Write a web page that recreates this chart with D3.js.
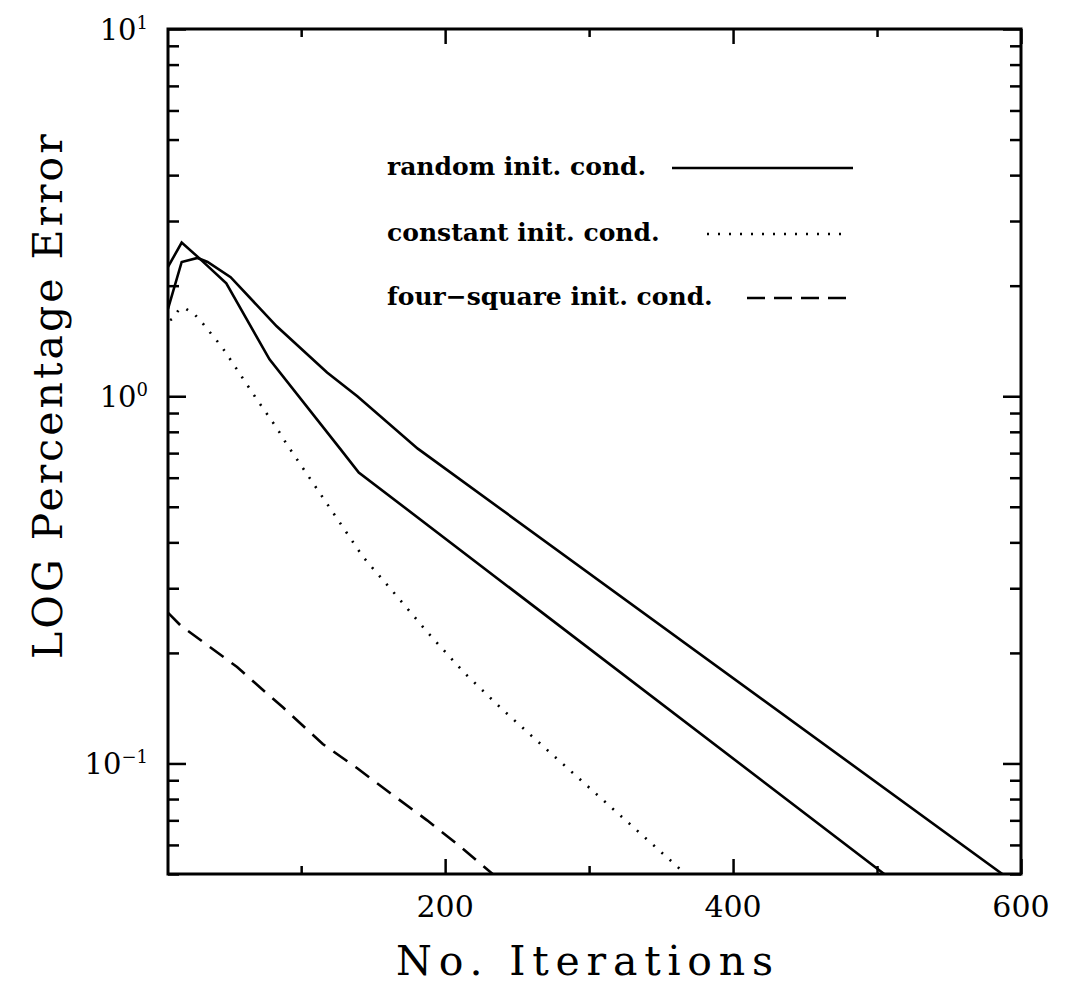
<!DOCTYPE html>
<html>
<head>
<meta charset="utf-8">
<script src="https://cdn.jsdelivr.net/npm/d3@7"></script>
<style>
  body { margin: 0; background: #fff; }
  svg text { font-family: "DejaVu Serif", serif; fill: #000; }
</style>
</head>
<body>
<svg id="chart" width="1065" height="990"></svg>
<script>
// random initial condition, run 1 (peaks first, ends lower)
var randomAIter = [7.5, 17, 28, 48, 78, 127, 140, 505];
var randomAErr  = [2.25, 2.62, 2.40, 2.03, 1.26, 0.72, 0.62, 0.05];

// random initial condition, run 2
var randomBIter = [7.5, 17, 28, 35, 51, 83, 118, 139, 181, 587];
var randomBErr  = [1.73, 2.32, 2.38, 2.32, 2.11, 1.55, 1.16, 1.0, 0.72, 0.05];

// constant initial condition (dotted)
var constantIter = [9, 11, 15, 19, 26, 31, 35, 40, 45, 49, 70, 83, 90, 143, 164, 188, 213, 240, 273, 367];
var constantErr  = [1.61, 1.63, 1.72, 1.74, 1.67, 1.59, 1.52, 1.44, 1.36, 1.29, 0.97, 0.82, 0.74, 0.365, 0.293, 0.227, 0.177, 0.14, 0.107, 0.05];

// four-square initial condition (dashed)
var fourSquareIter = [7.6, 16, 32, 55.5, 71.5, 87.5, 115, 139, 162, 187.5, 208, 233];
var fourSquareErr  = [0.257, 0.238, 0.214, 0.183, 0.161, 0.142, 0.113, 0.097, 0.083, 0.070, 0.0605, 0.05];

var xMajorTicks = [200, 400, 600];
var xMinorTicks = [100, 300, 500];
var yDecades = [0.1, 1, 10];
var yDecadeExp = ["\u22121", "0", "1"];

var legendLabels = ["random init. cond.", "constant init. cond.", "four\u2212square init. cond."];

(function draw() {
  var m = { left: 168, right: 1021, top: 29, bottom: 874 };

  var svg = d3.select("#chart");

  var x = d3.scaleLinear().domain([7.5, 600]).range([m.left, m.right]);
  var y = d3.scaleLog().domain([0.05, 10]).range([m.bottom, m.top]);

  svg.append("defs").append("clipPath").attr("id", "plot")
    .append("rect")
    .attr("x", m.left).attr("y", m.top)
    .attr("width", m.right - m.left).attr("height", m.bottom - m.top);

  var line = d3.line()
    .x(d => x(d[0]))
    .y(d => y(d[1]));

  function zipSeries(a, b) {
    return a.map((v, i) => [v, b[i]]);
  }

  var series = [
    { data: zipSeries(randomAIter, randomAErr), dash: null },
    { data: zipSeries(randomBIter, randomBErr), dash: null },
    { data: zipSeries(constantIter, constantErr), dash: "2,9" },
    { data: zipSeries(fourSquareIter, fourSquareErr), dash: "17,10" }
  ];

  svg.append("g")
    .attr("clip-path", "url(#plot)")
    .selectAll("path")
    .data(series)
    .enter()
    .append("path")
    .attr("d", d => line(d.data))
    .attr("fill", "none")
    .attr("stroke", "#000")
    .attr("stroke-width", 2.6)
    .attr("stroke-dasharray", d => d.dash);

  // ticks, all pointing inward
  var minorY = y.ticks().filter(v => yDecades.indexOf(v) < 0);

  function tickStyle(g) {
    g.select(".domain").remove();
    g.selectAll("line").attr("stroke", "#000").attr("stroke-width", 2.5);
    g.selectAll("text").remove();
  }

  svg.append("g").attr("transform", `translate(${m.left},0)`)
    .call(d3.axisLeft(y).tickValues(yDecades).tickSize(-18)).call(tickStyle);
  svg.append("g").attr("transform", `translate(${m.left},0)`)
    .call(d3.axisLeft(y).tickValues(minorY).tickSize(-11)).call(tickStyle);
  svg.append("g").attr("transform", `translate(${m.right},0)`)
    .call(d3.axisRight(y).tickValues(yDecades).tickSize(-18)).call(tickStyle);
  svg.append("g").attr("transform", `translate(${m.right},0)`)
    .call(d3.axisRight(y).tickValues(minorY).tickSize(-11)).call(tickStyle);

  svg.append("g").attr("transform", `translate(0,${m.bottom})`)
    .call(d3.axisBottom(x).tickValues(xMajorTicks).tickSize(-15)).call(tickStyle);
  svg.append("g").attr("transform", `translate(0,${m.bottom})`)
    .call(d3.axisBottom(x).tickValues(xMinorTicks).tickSize(-8)).call(tickStyle);
  svg.append("g").attr("transform", `translate(0,${m.top})`)
    .call(d3.axisTop(x).tickValues(xMajorTicks).tickSize(-15)).call(tickStyle);
  svg.append("g").attr("transform", `translate(0,${m.top})`)
    .call(d3.axisTop(x).tickValues(xMinorTicks).tickSize(-8)).call(tickStyle);

  // frame
  svg.append("rect")
    .attr("x", m.left).attr("y", m.top)
    .attr("width", m.right - m.left).attr("height", m.bottom - m.top)
    .attr("fill", "none")
    .attr("stroke", "#000")
    .attr("stroke-width", 3);

  // x tick labels
  svg.append("g")
    .selectAll("text")
    .data(xMajorTicks)
    .enter()
    .append("text")
    .attr("x", d => x(d))
    .attr("y", 917)
    .attr("text-anchor", "middle")
    .attr("font-size", 30)
    .text(d => d);

  // y tick labels 10^n
  var yLab = svg.append("g")
    .selectAll("text")
    .data(yDecades)
    .enter()
    .append("text")
    .attr("x", 148)
    .attr("y", d => y(d) + 11)
    .attr("text-anchor", "end")
    .attr("font-size", 29);
  yLab.append("tspan").text("10");
  yLab.append("tspan")
    .attr("dy", -11)
    .attr("font-size", 18)
    .text((d, i) => yDecadeExp[i]);

  // axis titles
  svg.append("text")
    .attr("x", 588)
    .attr("y", 975)
    .attr("text-anchor", "middle")
    .attr("font-size", 41)
    .attr("letter-spacing", 6.8)
    .text("No. Iterations");

  svg.append("text")
    .attr("transform", "translate(62,395) rotate(-90)")
    .attr("text-anchor", "middle")
    .attr("font-size", 41)
    .attr("letter-spacing", 3)
    .text("LOG Percentage Error");

  // legend
  var legendY = [168, 234, 298];
  var legendLine = [[672, 853], [707, 850], [747, 850]];
  var legendDash = [null, "2,9", "18,9"];

  var legend = svg.append("g")
    .selectAll("g")
    .data(legendLabels)
    .enter()
    .append("g");

  legend.append("text")
    .attr("x", 387)
    .attr("y", (d, i) => legendY[i] + 7)
    .attr("font-size", 25)
    .attr("font-weight", "bold")
    .text(d => d);

  legend.append("line")
    .attr("x1", (d, i) => legendLine[i][0])
    .attr("x2", (d, i) => legendLine[i][1])
    .attr("y1", (d, i) => legendY[i])
    .attr("y2", (d, i) => legendY[i])
    .attr("stroke", "#000")
    .attr("stroke-width", 2.5)
    .attr("stroke-dasharray", (d, i) => legendDash[i]);
})();
</script>
</body>
</html>
